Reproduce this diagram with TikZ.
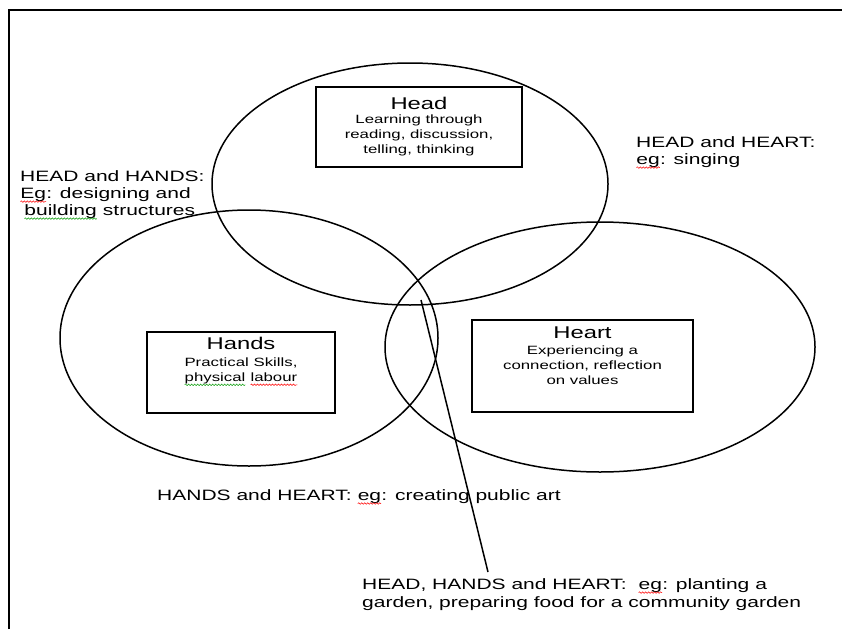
\documentclass[tikz,border=0pt]{standalone}
\usepackage{fontspec}
\setmainfont{Liberation Sans}[FakeStretch=1.4]
\usetikzlibrary{shapes.geometric,decorations.pathmorphing}

\newcommand\wavy[2]{\tikz[baseline=(w.base)]{\node[inner sep=0pt, outer sep=0pt] (w) {#2};
  \draw[#1, line width=0.5pt, decorate, decoration={snake, amplitude=0.8pt, segment length=3pt}] ([yshift=-3.5pt]w.base west) -- ([yshift=-3.5pt]w.base east);}}
\newcommand\redwave[1]{\wavy{red}{#1}}
\newcommand\greenwave[1]{\wavy{green!60!black}{#1}}

\begin{document}
\begin{tikzpicture}[x=1pt, y=-1pt,
  ring/.style={draw, ellipse, line width=1.5pt, inner sep=0pt},
  box/.style={draw, rectangle, line width=1.2pt, inner sep=0pt},
  title/.style={font=\fontsize{17}{20}\selectfont, inner sep=0pt},
  body/.style={font=\fontsize{12}{15}\selectfont, align=center, inner sep=0pt},
  note/.style={font=\fontsize{15}{17}\selectfont, align=left, anchor=north west, inner sep=0pt}]
\useasboundingbox (0,0) rectangle (842,629);

% frame
\draw[line width=2pt] (9,629) |- (842,10);

% the three rings
\node[ring, minimum width=396, minimum height=242] (head) at (410,184) {};
\node[ring, minimum width=378, minimum height=256] (hands) at (249,338) {};
\node[ring, minimum width=430, minimum height=250] (heart) at (600,347) {};

% boxes
\node[box, minimum width=206, minimum height=80] (headbox) at (419,127) {};
\node[title, anchor=base] (headT) at ([yshift=-23pt]headbox.north) {Head};
\node[body, anchor=north] (headB) at ([yshift=-5pt]headT.base) {Learning through\\reading, discussion,\\telling, thinking};

\node[box, minimum width=188, minimum height=81] (handsbox) at (241,372.5) {};
\node[title, anchor=base] (handsT) at ([yshift=-18pt]handsbox.north) {Hands};
\node[body, anchor=north] (handsB) at ([yshift=-8pt]handsT.base) {Practical Skills,\\\greenwave{physical} \redwave{labour}};

\node[box, minimum width=221, minimum height=92] (heartbox) at (582.5,366) {};
\node[title, anchor=base] (heartT) at ([yshift=-19pt]heartbox.north) {Heart};
\node[body, anchor=north] (heartB) at ([yshift=-7pt]heartT.base) {Experiencing a\\connection, reflection\\on values};

% overlaps
\node[note] (headhands) at (20,170) {HEAD and HANDS:\\\redwave{Eg}: designing and\\\hspace*{4pt}\greenwave{building} structures};
\node[note] (headheart) at (636,136) {HEAD and HEART:\\\redwave{eg}: singing};
\node[note] (handsheart) at (157,489) {HANDS and HEART: \redwave{eg}: creating public art};
\node[note, font=\fontsize{15}{18}\selectfont] (allthree) at (362,578) {HEAD, HANDS and HEART:\ \ \redwave{eg}: planting a\\garden, preparing food for a community garden};

% pointer to the centre
\coordinate (tip) at (421,300);
\coordinate (foot) at (488,572);
\draw[line width=1.5pt] (tip) -- (foot);
\end{tikzpicture}
\end{document}
